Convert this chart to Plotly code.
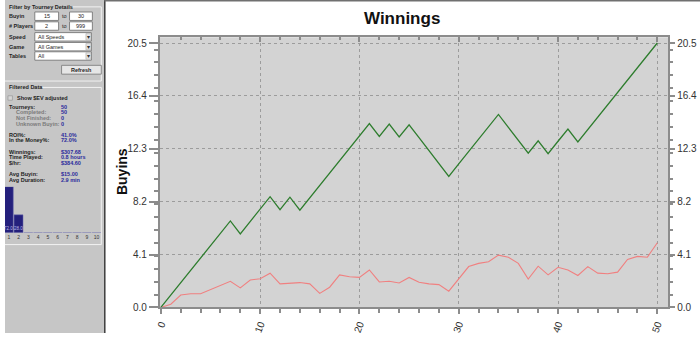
import plotly.graph_objects as go

W, H = 700, 339

# ---------------- data ----------------
tourney = list(range(0, 51))
winnings_buyins = [0.00, 0.96, 1.92, 2.88, 3.83, 4.79, 5.75, 6.71, 5.71, 6.67,
                   7.63, 8.59, 7.59, 8.55, 7.55, 8.50, 9.46, 10.42, 11.38, 12.34,
                   13.30, 14.26, 13.26, 14.22, 13.22, 14.17, 13.17, 12.17, 11.17, 10.17,
                   11.13, 12.09, 13.05, 14.01, 14.97, 13.97, 12.97, 11.97, 12.93, 11.93,
                   12.89, 13.84, 12.84, 13.80, 14.76, 15.72, 16.68, 17.64, 18.60, 19.55,
                   20.51]
second_series = [0.00, 0.25, 0.96, 1.06, 1.06, 1.39, 1.72, 2.03, 1.52, 2.13,
                 2.23, 2.66, 1.83, 1.90, 1.93, 1.83, 1.09, 1.57, 2.53, 2.38,
                 2.33, 2.91, 1.98, 2.03, 1.90, 2.33, 1.95, 1.83, 1.77, 1.26,
                 2.23, 3.17, 3.42, 3.55, 4.06, 3.90, 3.42, 2.21, 3.20, 2.53,
                 3.12, 2.91, 2.48, 3.17, 2.66, 2.61, 2.74, 3.73, 3.96, 3.90,
                 5.02]

finish_positions = [1, 2, 3, 4, 5, 6, 7, 8, 9, 10]
finish_pct = [72.0, 28.0, 0, 0, 0, 0, 0, 0, 0, 0]
finish_labels = ["72.0", "28.0"]

filter_labels = ["Buyin", "# Players", "Speed", "Game", "Tables"]
range_from = ["15", "2"]
range_to = ["30", "999"]
dropdown_values = ["All Speeds", "All Games", "All"]

stat_labels = ["Tourneys:", "Completed:", "Not Finished:", "Unknown Buyin:",
               "ROI%:", "In the Money%:", "Winnings:", "Time Played:", "$/hr:",
               "Avg Buyin:", "Avg Duration:"]
stat_values = ["50", "50", "0", "0", "41.0%", "72.0%", "$307.68", "0.8 hours",
               "$384.60", "$15.00", "2.9 min"]
stat_indent = [False, True, True, True, False, False, False, False, False, False, False]

# ---------------- helpers ----------------
def fx(px):
    return px / W

def fy(py):
    return 1 - py / H

FONT = "Liberation Sans, Arial, sans-serif"
PFONT = "Liberation Sans Narrow, Arial Narrow, Liberation Sans, sans-serif"
PSIZE = 5.5
shapes = []
annots = []

def rect(x0, y0, x1, y1, fill, line=None, lw=1, layer="below"):
    shapes.append(dict(type="rect", xref="paper", yref="paper",
                       x0=fx(x0), x1=fx(x1), y0=fy(y1), y1=fy(y0),
                       fillcolor=fill, layer=layer,
                       line=dict(width=lw if line else 0, color=line or fill)))

def hline(x0, x1, y, color, lw=1):
    shapes.append(dict(type="line", xref="paper", yref="paper", x0=fx(x0), x1=fx(x1),
                       y0=fy(y), y1=fy(y), line=dict(color=color, width=lw), layer="below"))

def vline(x, y0, y1, color, lw=1):
    shapes.append(dict(type="line", xref="paper", yref="paper", x0=fx(x), x1=fx(x),
                       y0=fy(y0), y1=fy(y1), line=dict(color=color, width=lw), layer="below"))

def text(x, y, s, size=PSIZE, color="#1e1e1e", bold=True, anchor="left", angle=0, family=PFONT):
    annots.append(dict(xref="paper", yref="paper", x=fx(x), y=fy(y),
                       text=("<b>%s</b>" % s) if bold else s, showarrow=False,
                       xanchor=anchor, yanchor="middle", textangle=angle,
                       font=dict(size=size, color=color, family=family)))

# ---------------- left panel ----------------
rect(0, 0, 100, H, "#c6c6c6")
text(2, 7, "Filter by Tourney Details")
hline(66, 97, 7, "#f2f2f2")
vline(97, 7, 82.5, "#f2f2f2")
hline(0, 97, 82.5, "#f2f2f2")

row_y = [16.5, 26.5, 37.5, 47.5, 57]
for lab, yy in zip(filter_labels, row_y):
    text(2, yy, lab)
for i in range(2):
    y0, y1 = row_y[i] - 4.3, row_y[i] + 4.3
    rect(30, y0, 54, y1, "white", "#808080", 1)
    text(42, row_y[i], range_from[i], bold=False, anchor="center")
    text(60, row_y[i], "to", bold=False, anchor="center")
    rect(65, y0, 88, y1, "white", "#808080", 1)
    text(76.5, row_y[i], range_to[i], bold=False, anchor="center")
for i in range(3):
    yy = row_y[2 + i]
    y0, y1 = yy - 4.3, yy + 4.3
    rect(30, y0, 87, y1, "white", "#808080", 1)
    rect(81.5, y0 + 1, 86.5, y1 - 1, "#e4e4e4", "#a0a0a0", 0.5)
    text(84, yy, "▾", size=6, bold=False, anchor="center", color="#333", family=FONT)
    text(31.5, yy, dropdown_values[i], bold=False)

rect(57, 66.5, 97, 75.5, "#e6e6e6", "#888888", 1)
text(77, 71, "Refresh", anchor="center")

text(2, 89, "Filtered Data")
hline(37, 97, 89, "#f2f2f2")
vline(97, 89, 249, "#f2f2f2")
hline(0, 97, 249, "#f2f2f2")

rect(3, 97.5, 7.5, 102, "#d6d6d6", "#9a9a9a", 0.7)
text(10, 100, "Show $EV adjusted")

stat_y = [109, 114.5, 120.3, 126.2, 137.3, 142.8, 154.7, 160.3, 166, 177.3, 183]
for lab, val, ind, yy in zip(stat_labels, stat_values, stat_indent, stat_y):
    text(9 if ind else 2, yy, lab, color="#7a7a7a" if ind else "#1e1e1e")
    text(54, yy, val, color="#2a2a9c")

# chart panel frame
vline(100.5, 0, H, "#3c3c3c", 1.5)
hline(100, W, 0.7, "#707070", 1.5)

# title / axis title
text(400, 19, "Winnings", size=17, color="#111", anchor="center", family=FONT)
text(118, 175, "Buyins", size=14, color="#111", anchor="center", angle=-90, family=FONT)

# main plot background
shapes.append(dict(type="rect", xref="x domain", yref="y domain", x0=0, x1=1, y0=0, y1=1,
                   fillcolor="#d3d3d3", line=dict(width=0), layer="below"))

for lab, pos in zip(finish_labels, finish_positions):
    annots.append(dict(xref="x3", yref="y3", x=pos, y=0, text=lab, showarrow=False,
                       xanchor="center", yanchor="bottom",
                       font=dict(size=4.5, color="#b8b8e8", family=FONT)))

# ---------------- traces ----------------
fig = go.Figure()
fig.add_trace(go.Scatter(x=tourney, y=second_series, mode="lines",
                         line=dict(color="#f08080", width=1.1),
                         xaxis="x", yaxis="y", hoverinfo="skip"))
fig.add_trace(go.Scatter(x=tourney, y=winnings_buyins, mode="lines",
                         line=dict(color="#2e7d2e", width=1.3),
                         xaxis="x2", yaxis="y2", hoverinfo="skip"))
fig.add_trace(go.Bar(x=finish_positions, y=finish_pct, width=0.92,
                     marker=dict(color="#24207c", line=dict(width=0.5, color="#6a6ab0")),
                     xaxis="x3", yaxis="y3", hoverinfo="skip"))

XR = [-0.1, 51.1]
YR = [0, 20.95]
tickfont = dict(size=10, color="#333333", family=FONT)
axcol = "#8c8c8c"
gridcol = "#9c9c9c"

fig.update_layout(
    width=W, height=H, margin=dict(l=0, r=0, t=0, b=0),
    paper_bgcolor="white", plot_bgcolor="rgba(0,0,0,0)", showlegend=False,
    shapes=shapes, annotations=annots,
    xaxis=dict(domain=[156 / W, 668 / W], range=XR, anchor="y",
               tickmode="linear", tick0=0, dtick=10, ticks="outside", ticklen=5,
               tickcolor=axcol, tickwidth=1.5, tickangle=-70, tickfont=tickfont,
               showgrid=True, gridcolor=gridcol, griddash="dot", gridwidth=1,
               zeroline=False, showline=True, linecolor=axcol, linewidth=2,
               minor=dict(tick0=0, dtick=2, ticks="outside", ticklen=4,
                          tickcolor=axcol, tickwidth=1.5, showgrid=False)),
    xaxis2=dict(overlaying="x", side="top", anchor="y", range=XR,
                tickmode="linear", tick0=0, dtick=10, ticks="inside", ticklen=5,
                tickcolor=axcol, tickwidth=1.5, showticklabels=False,
                showgrid=False, zeroline=False, showline=True, linecolor=axcol, linewidth=2,
                minor=dict(tick0=0, dtick=2, ticks="inside", ticklen=3,
                           tickcolor=axcol, tickwidth=1.5, showgrid=False)),
    yaxis=dict(domain=[26 / H, 301 / H], range=YR, anchor="x",
               tickmode="linear", tick0=0, dtick=4.1, tickformat=".1f",
               ticks="outside", ticklen=9, tickcolor=axcol, tickwidth=1.5, tickfont=tickfont,
               showgrid=True, gridcolor=gridcol, griddash="dot", gridwidth=1,
               zeroline=False, showline=True, linecolor=axcol, linewidth=2,
               minor=dict(tick0=0, dtick=1, ticks="outside", ticklen=4,
                          tickcolor=axcol, tickwidth=1.5, showgrid=False)),
    yaxis2=dict(overlaying="y", side="right", anchor="x", range=YR,
                tickmode="linear", tick0=0, dtick=4.1, tickformat=".1f",
                ticks="outside", ticklen=5, tickcolor=axcol, tickwidth=1.5, tickfont=tickfont,
                showgrid=False, zeroline=False, showline=True, linecolor=axcol, linewidth=2,
                minor=dict(tick0=0, dtick=1, ticks="outside", ticklen=3,
                           tickcolor=axcol, tickwidth=1.5, showgrid=False)),
    xaxis3=dict(domain=[0, 98 / W], range=[0.613, 10.59], anchor="y3",
                tickmode="array", tickvals=finish_positions,
                ticktext=[str(p) for p in finish_positions],
                ticks="", tickfont=dict(size=5, color="#333", family=FONT),
                showgrid=False, zeroline=False, showline=False),
    yaxis3=dict(domain=[(H - 237) / H, (H - 190) / H], range=[0, 72], anchor="x3",
                visible=False, showgrid=False, zeroline=False),
)

fig.write_html("out.html")
